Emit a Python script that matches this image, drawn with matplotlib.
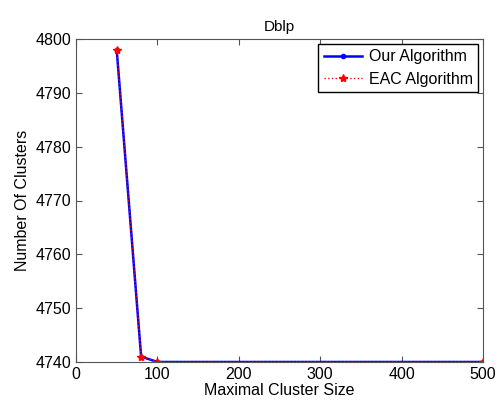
import matplotlib.pyplot as plt

plt.rcParams['font.family'] = ['Liberation Sans', 'DejaVu Sans']

cluster_size = [50, 80, 100, 500]
our_alg = [4798, 4741, 4740, 4740]
eac_alg = [4798, 4741, 4740, 4740]


def draw_graph():
    fig = plt.figure(figsize=(4.98, 4.01), dpi=100)
    ax = fig.add_axes([0.1526, 0.0973, 0.8174, 0.8054])
    ax.plot(cluster_size, our_alg, color='#0000ff', linestyle='-', marker='.',
            markersize=6, linewidth=1.8, label='Our Algorithm')
    ax.plot(cluster_size, eac_alg, color='#ff0000', linestyle=':', marker='*',
            markersize=6, linewidth=1.0, label='EAC Algorithm')
    ax.set_xlim(0, 500)
    ax.set_ylim(4740, 4800)
    ax.set_xticks(range(0, 501, 100))
    ax.set_yticks(range(4740, 4801, 10))
    for s in ax.spines.values():
        s.set_color('#555555')
    ax.tick_params(direction='in', top=True, right=True, labelsize=11.5,
                   length=4, color='#555555')
    ax.set_title('Dblp', fontsize=11)
    ax.set_xlabel('Maximal Cluster Size', fontsize=11.5, labelpad=1)
    ax.set_ylabel('Number Of Clusters', fontsize=11.5)
    ax.legend(loc='upper right', fontsize=11.5, fancybox=False, framealpha=1,
              edgecolor='black', borderaxespad=0.3, handlelength=2.4,
              labelspacing=0.45, borderpad=0.35, handletextpad=0.4)
    fig.savefig('out.png', dpi=100)


if __name__ == '__main__':
    draw_graph()
